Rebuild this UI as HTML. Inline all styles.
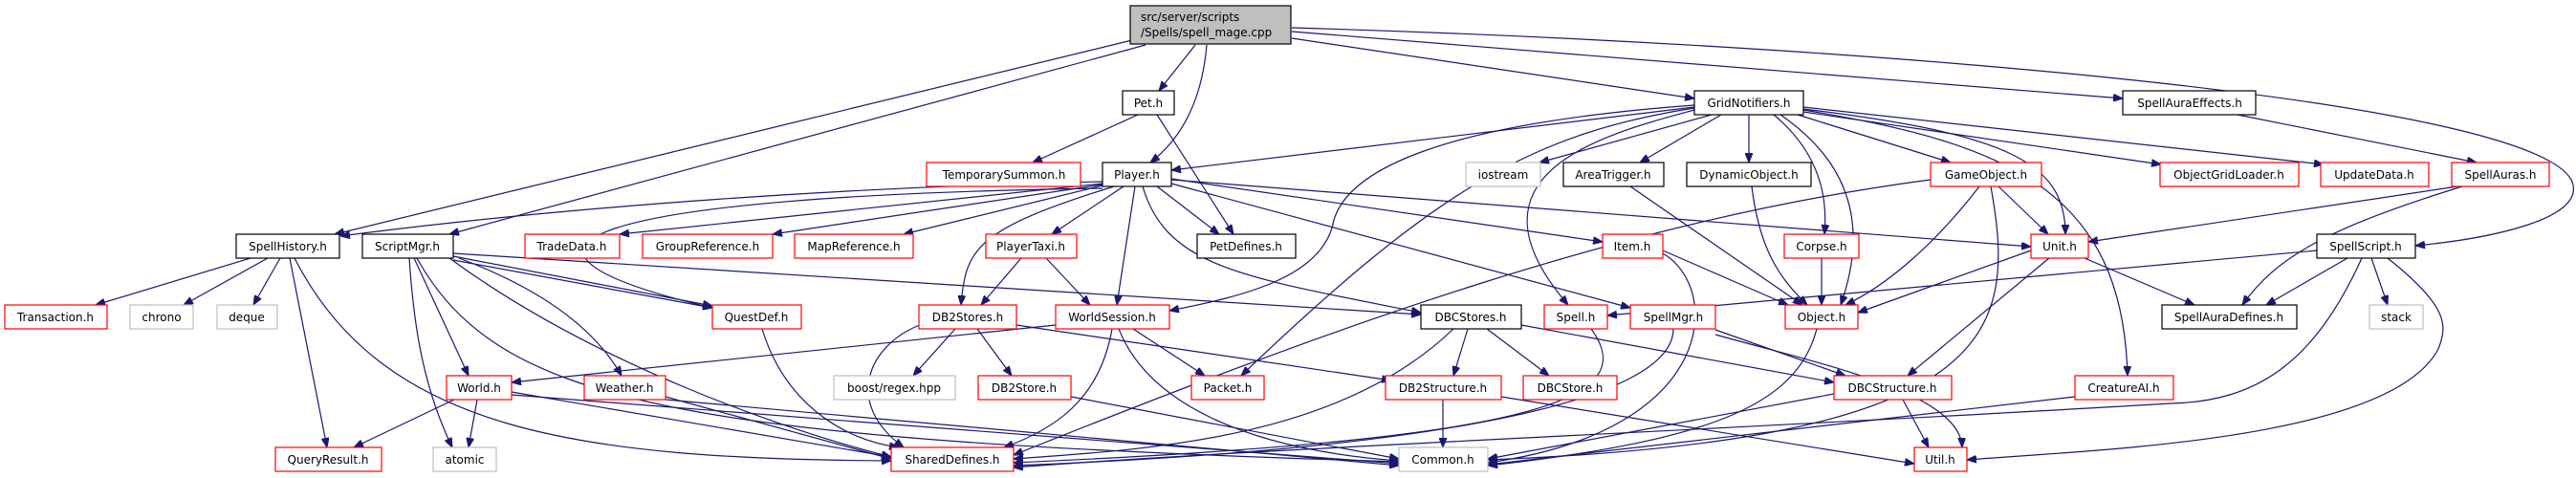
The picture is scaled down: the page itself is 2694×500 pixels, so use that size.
<!DOCTYPE html>
<html><head><meta charset="utf-8"><style>
html,body{margin:0;padding:0;background:#fff;}
svg{display:block;}
text{font-family:"DejaVu Sans","Liberation Sans",sans-serif;font-size:12px;fill:#000;}
.e{fill:none;stroke:#191970;stroke-width:1.2;marker-end:url(#a);}
.n{fill:#fff;stroke:#000;stroke-width:1.2;}
.r{fill:#fff;stroke:#ff0000;stroke-width:1.2;}
.g{fill:#fff;stroke:#bfbfbf;stroke-width:1.2;}
</style></head><body>
<svg width="2694" height="500" viewBox="0 0 2694 500" xmlns="http://www.w3.org/2000/svg">
<defs><marker id="a" viewBox="0 0 10 8" refX="10" refY="4" markerWidth="10" markerHeight="8" markerUnits="userSpaceOnUse" orient="auto"><path d="M0,0 L10,4 L0,8 Z" fill="#191970" stroke="#191970"/></marker></defs>
<g>
<path class="e" d="M1184,42 L350,245"/>
<path class="e" d="M1198,47 L470,245"/>
<path class="e" d="M1250,47 L1212,95"/>
<path class="e" d="M1262,47 Q1255,130 1203,170"/>
<path class="e" d="M1351,40 L1772,103"/>
<path class="e" d="M1351,33 L2220,103"/>
<path class="e" d="M1351,29 C1900,45 2650,100 2690,190 C2705,230 2600,250 2526,257"/>
<path class="e" d="M1190,120 L1080,170"/>
<path class="e" d="M1210,120 L1290,245"/>
<path class="e" d="M1772,112 L1225,178"/>
<path class="e" d="M1772,110 C1500,130 1410,180 1395,230 C1385,290 1300,310 1223,325"/>
<path class="e" d="M1772,113 C1600,140 1500,200 1298,393"/>
<path class="e" d="M1772,115 C1680,140 1520,180 1640,319"/>
<path class="e" d="M1790,120 L1610,170"/>
<path class="e" d="M1800,120 L1715,170"/>
<path class="e" d="M1829,120 L1829,170"/>
<path class="e" d="M1855,120 Q1915,170 1908,245"/>
<path class="e" d="M1862,120 C1920,160 1960,220 1925,319"/>
<path class="e" d="M1880,120 L2040,170"/>
<path class="e" d="M1886,114 C2100,140 2160,170 2160,245"/>
<path class="e" d="M1886,117 L2260,172"/>
<path class="e" d="M1886,112 L2430,172"/>
<path class="e" d="M1886,115 C2100,150 2220,200 2225,393"/>
<path class="e" d="M1153,190 C900,195 600,215 356,247"/>
<path class="e" d="M1153,192 L648,245"/>
<path class="e" d="M1153,193 L808,245"/>
<path class="e" d="M1153,194 L945,245"/>
<path class="e" d="M1153,197 C600,205 480,260 745,322"/>
<path class="e" d="M1165,195 C1020,240 1010,260 1005,319"/>
<path class="e" d="M1175,195 L1100,245"/>
<path class="e" d="M1187,195 L1168,319"/>
<path class="e" d="M1210,195 L1275,245"/>
<path class="e" d="M1195,195 C1220,280 1300,290 1486,327"/>
<path class="e" d="M1225,187 L1676,253"/>
<path class="e" d="M1225,188 L2124,258"/>
<path class="e" d="M1225,192 L1705,322"/>
<path class="e" d="M2340,120 L2590,170"/>
<path class="e" d="M2570,195 L2184,253"/>
<path class="e" d="M2575,195 C2430,240 2380,270 2345,319"/>
<path class="e" d="M474,268 L745,320"/>
<path class="e" d="M474,272 L745,322"/>
<path class="e" d="M474,265 L1486,329"/>
<path class="e" d="M433,270 L490,393"/>
<path class="e" d="M428,270 C432,330 440,400 473,468"/>
<path class="e" d="M480,270 C560,300 620,340 650,393"/>
<path class="e" d="M470,270 C620,380 820,450 932,478"/>
<path class="e" d="M436,270 C520,420 700,460 1463,483"/>
<path class="e" d="M262,270 L100,319"/>
<path class="e" d="M280,270 L192,319"/>
<path class="e" d="M293,270 L265,319"/>
<path class="e" d="M303,270 L342,468"/>
<path class="e" d="M308,270 C400,450 600,480 932,482"/>
<path class="e" d="M1068,270 L1026,319"/>
<path class="e" d="M1094,270 L1140,319"/>
<path class="e" d="M999,344 L955,393"/>
<path class="e" d="M1022,344 L1058,393"/>
<path class="e" d="M1063,340 L1455,398"/>
<path class="e" d="M962,340 C910,360 880,420 945,468"/>
<path class="e" d="M1104,340 L535,400"/>
<path class="e" d="M1185,344 L1260,393"/>
<path class="e" d="M1163,344 C1150,420 1100,450 1050,468"/>
<path class="e" d="M1170,344 C1200,420 1300,470 1463,482"/>
<path class="e" d="M475,418 L370,468"/>
<path class="e" d="M499,418 L490,468"/>
<path class="e" d="M535,410 L932,478"/>
<path class="e" d="M535,413 L1463,485"/>
<path class="e" d="M696,415 L932,480"/>
<path class="e" d="M696,418 L1463,487"/>
<path class="e" d="M797,344 C820,420 880,460 940,468"/>
<path class="e" d="M1120,415 L1463,480"/>
<path class="e" d="M1520,344 C1400,460 1200,470 1060,480"/>
<path class="e" d="M1535,344 L1520,393"/>
<path class="e" d="M1555,344 L1620,393"/>
<path class="e" d="M1591,340 L1918,400"/>
<path class="e" d="M1509,418 L1509,468"/>
<path class="e" d="M1570,415 L2002,485"/>
<path class="e" d="M1664,344 C1720,420 1600,460 1060,484"/>
<path class="e" d="M1750,344 C1750,420 1500,470 1060,487"/>
<path class="e" d="M1794,345 L1930,393"/>
<path class="e" d="M1794,350 C1900,380 2050,410 2052,468"/>
<path class="e" d="M1739,262 L1870,319"/>
<path class="e" d="M1739,265 C1800,300 1800,450 1556,484"/>
<path class="e" d="M1905,270 L1905,319"/>
<path class="e" d="M1705,195 L1885,319"/>
<path class="e" d="M1832,195 C1840,260 1860,290 1890,319"/>
<path class="e" d="M2070,195 C2020,260 1970,300 1930,319"/>
<path class="e" d="M2090,195 L2142,245"/>
<path class="e" d="M2019,188 C1700,230 1400,340 1060,476"/>
<path class="e" d="M2082,195 C2110,350 2090,460 1556,481"/>
<path class="e" d="M2124,262 L1943,327"/>
<path class="e" d="M2143,270 L1995,393"/>
<path class="e" d="M2180,270 L2295,319"/>
<path class="e" d="M2455,270 L2370,319"/>
<path class="e" d="M2480,270 L2497,319"/>
<path class="e" d="M2423,262 L1681,330"/>
<path class="e" d="M2470,270 C2420,380 2360,420 2270,422 C1800,450 1300,470 1060,489"/>
<path class="e" d="M2497,270 C2560,320 2560,340 2550,365 C2500,460 2200,470 2057,481"/>
<path class="e" d="M1900,344 C1880,420 1800,460 1556,487"/>
<path class="e" d="M1918,412 L1556,480"/>
<path class="e" d="M1990,418 L2017,468"/>
<path class="e" d="M2170,415 L1556,486"/>
</g>
<g>
<rect x="1182" y="6" width="168" height="40" fill="#bfbfbf" stroke="#000" stroke-width="1.2"/>
<text x="1193" y="22">src/server/scripts</text>
<text x="1193" y="38">/Spells/spell_mage.cpp</text>
</g>
<g text-anchor="middle">
<rect class="n" x="1174" y="95" width="54" height="25"/><text x="1201" y="112">Pet.h</text>
<rect class="n" x="1772" y="95" width="114" height="25"/><text x="1829" y="112">GridNotifiers.h</text>
<rect class="n" x="2220" y="95" width="139" height="25"/><text x="2290" y="112">SpellAuraEffects.h</text>

<rect class="r" x="969" y="170" width="161" height="25"/><text x="1050" y="187">TemporarySummon.h</text>
<rect class="n" x="1153" y="170" width="72" height="25"/><text x="1189" y="187">Player.h</text>
<rect class="g" x="1533" y="170" width="78" height="25"/><text x="1572" y="187">iostream</text>
<rect class="n" x="1635" y="170" width="105" height="25"/><text x="1687" y="187">AreaTrigger.h</text>
<rect class="n" x="1764" y="170" width="130" height="25"/><text x="1829" y="187">DynamicObject.h</text>
<rect class="r" x="2019" y="170" width="116" height="25"/><text x="2077" y="187">GameObject.h</text>
<rect class="r" x="2259" y="170" width="145" height="25"/><text x="2331" y="187">ObjectGridLoader.h</text>
<rect class="r" x="2427" y="170" width="113" height="25"/><text x="2483" y="187">UpdateData.h</text>
<rect class="r" x="2564" y="170" width="102" height="25"/><text x="2615" y="187">SpellAuras.h</text>

<rect class="n" x="247" y="245" width="108" height="25"/><text x="301" y="262">SpellHistory.h</text>
<rect class="n" x="379" y="245" width="95" height="25"/><text x="426" y="262">ScriptMgr.h</text>
<rect class="r" x="549" y="245" width="99" height="25"/><text x="598" y="262">TradeData.h</text>
<rect class="r" x="672" y="245" width="136" height="25"/><text x="740" y="262">GroupReference.h</text>
<rect class="r" x="831" y="245" width="124" height="25"/><text x="893" y="262">MapReference.h</text>
<rect class="r" x="1031" y="245" width="95" height="25"/><text x="1078" y="262">PlayerTaxi.h</text>
<rect class="n" x="1252" y="245" width="103" height="25"/><text x="1303" y="262">PetDefines.h</text>
<rect class="r" x="1676" y="245" width="63" height="25"/><text x="1707" y="262">Item.h</text>
<rect class="r" x="1866" y="245" width="78" height="25"/><text x="1905" y="262">Corpse.h</text>
<rect class="r" x="2124" y="245" width="60" height="25"/><text x="2154" y="262">Unit.h</text>
<rect class="n" x="2423" y="245" width="103" height="25"/><text x="2474" y="262">SpellScript.h</text>

<rect class="r" x="5" y="319" width="107" height="25"/><text x="58" y="336">Transaction.h</text>
<rect class="g" x="136" y="319" width="66" height="25"/><text x="169" y="336">chrono</text>
<rect class="g" x="227" y="319" width="63" height="25"/><text x="258" y="336">deque</text>
<rect class="r" x="745" y="319" width="93" height="25"/><text x="791" y="336">QuestDef.h</text>
<rect class="r" x="961" y="319" width="102" height="25"/><text x="1012" y="336">DB2Stores.h</text>
<rect class="r" x="1104" y="319" width="119" height="25"/><text x="1163" y="336">WorldSession.h</text>
<rect class="n" x="1486" y="319" width="105" height="25"/><text x="1538" y="336">DBCStores.h</text>
<rect class="r" x="1615" y="319" width="66" height="25"/><text x="1648" y="336">Spell.h</text>
<rect class="r" x="1705" y="319" width="89" height="25"/><text x="1750" y="336">SpellMgr.h</text>
<rect class="r" x="1867" y="319" width="76" height="25"/><text x="1905" y="336">Object.h</text>
<rect class="n" x="2261" y="319" width="141" height="25"/><text x="2331" y="336">SpellAuraDefines.h</text>
<rect class="g" x="2478" y="319" width="56" height="25"/><text x="2506" y="336">stack</text>

<rect class="r" x="467" y="393" width="68" height="25"/><text x="501" y="410">World.h</text>
<rect class="r" x="611" y="393" width="85" height="25"/><text x="653" y="410">Weather.h</text>
<rect class="g" x="872" y="393" width="127" height="25"/><text x="935" y="410">boost/regex.hpp</text>
<rect class="r" x="1023" y="393" width="97" height="25"/><text x="1071" y="410">DB2Store.h</text>
<rect class="r" x="1246" y="393" width="76" height="25"/><text x="1284" y="410">Packet.h</text>
<rect class="r" x="1449" y="393" width="121" height="25"/><text x="1509" y="410">DB2Structure.h</text>
<rect class="r" x="1593" y="393" width="98" height="25"/><text x="1642" y="410">DBCStore.h</text>
<rect class="r" x="1918" y="393" width="123" height="25"/><text x="1979" y="410">DBCStructure.h</text>
<rect class="r" x="2170" y="393" width="103" height="25"/><text x="2221" y="410">CreatureAI.h</text>

<rect class="r" x="288" y="468" width="111" height="25"/><text x="343" y="485">QueryResult.h</text>
<rect class="g" x="453" y="468" width="66" height="25"/><text x="486" y="485">atomic</text>
<rect class="r" x="932" y="468" width="128" height="25"/><text x="996" y="485">SharedDefines.h</text>
<rect class="g" x="1463" y="468" width="93" height="25"/><text x="1509" y="485">Common.h</text>
<rect class="r" x="2002" y="468" width="55" height="25"/><text x="2029" y="485">Util.h</text>
</g>
</svg>
</body></html>
